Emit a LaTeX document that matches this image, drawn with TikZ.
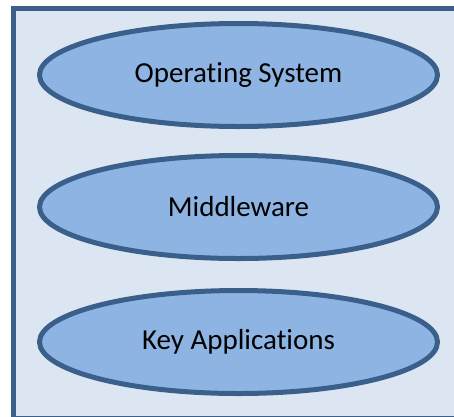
\documentclass[tikz,border=0pt]{standalone}
\usepackage{fontspec}
\setmainfont{Carlito}[Ligatures=NoCommon]
\usepackage{xcolor}
\usetikzlibrary{shapes.geometric}

\definecolor{panelfill}{HTML}{DCE6F2}
\definecolor{layerfill}{HTML}{8EB4E3}
\definecolor{layerline}{HTML}{3A5F8B}

\begin{document}
\begin{tikzpicture}[x=1pt, y=-1pt,
    layer/.style={ellipse, draw=layerline, fill=layerfill, line width=5pt,
        minimum width=398pt, minimum height=103pt, inner sep=0pt,
        font=\fontsize{29}{34}\selectfont}]
    \useasboundingbox (0,0) rectangle (454,416);
    \clip (0,0) rectangle (454,416);
    \draw[draw=layerline, fill=panelfill, line width=5pt] (13.5,8) rectangle (458,418);

    \node[layer] (os) at (238.5,75) {\raisebox{2pt}{Operating System}};
    \node[layer] (mw) at (238.5,207) {\raisebox{2pt}{Middleware}};
    \node[layer] (apps) at (238.5,342) {\raisebox{2pt}{Key Applications}};
\end{tikzpicture}
\end{document}
